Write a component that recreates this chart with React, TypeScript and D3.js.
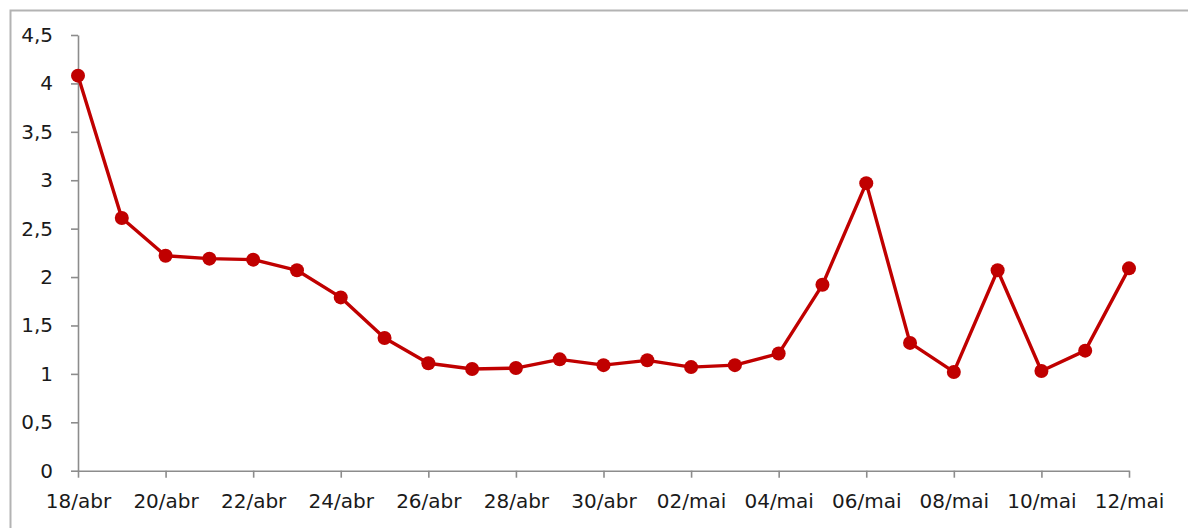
import { useEffect, useRef } from 'react';
import * as d3 from 'd3';

const days = [
	'18/abr', '19/abr', '20/abr', '21/abr', '22/abr', '23/abr', '24/abr', '25/abr',
	'26/abr', '27/abr', '28/abr', '29/abr', '30/abr', '01/mai', '02/mai', '03/mai',
	'04/mai', '05/mai', '06/mai', '07/mai', '08/mai', '09/mai', '10/mai', '11/mai', '12/mai',
];
const values = [
	4.08, 2.61, 2.22, 2.19, 2.18, 2.07, 1.79, 1.37, 1.11, 1.05, 1.06, 1.15, 1.09,
	1.14, 1.07, 1.09, 1.21, 1.92, 2.97, 1.32, 1.02, 2.07, 1.03, 1.24, 2.09,
];
const yTicks = [0, 0.5, 1, 1.5, 2, 2.5, 3, 3.5, 4, 4.5];

const width = 1188;
const height = 528;

export default function App() {
	const ref = useRef<SVGSVGElement>(null);

	useEffect(() => {
		const svg = d3.select(ref.current);
		svg.selectAll('*').remove();

		// outer frame, cut off on the right and bottom like the screenshot
		svg.append('rect')
			.attr('x', 10.5)
			.attr('y', 10.5)
			.attr('width', width + 20)
			.attr('height', height + 20)
			.attr('fill', 'white')
			.attr('stroke', '#b3b3b3')
			.attr('stroke-width', 2);

		const xScale = d3.scaleLinear()
			.domain([0, days.length - 1])
			.range([78, 1129]);
		const yScale = d3.scaleLinear()
			.domain([0, 4.5])
			.range([470.7, 35]);

		const font = '"DejaVu Sans", Verdana, sans-serif';

		const xAxis = svg.append('g')
			.attr('transform', `translate(0,${yScale(0)})`)
			.call(
				d3.axisBottom(xScale)
					.tickValues(d3.range(0, days.length, 2))
					.tickFormat(i => days[+i])
					.tickSize(7)
					.tickSizeOuter(0)
					.tickPadding(16),
			);
		const yAxis = svg.append('g')
			.attr('transform', `translate(${xScale(0)},0)`)
			.call(
				d3.axisLeft(yScale)
					.tickValues(yTicks)
					.tickFormat(v => String(v).replace('.', ','))
					.tickSize(7)
					.tickSizeOuter(0)
					.tickPadding(18),
			);
		[xAxis, yAxis].forEach(g => {
			g.selectAll('path, line')
				.attr('stroke', '#8c8c8c')
				.attr('stroke-width', 1.6);
			g.selectAll('text')
				.attr('fill', '#1a1a1a')
				.style('font-family', font)
				.style('font-size', '20px');
		});

		const line = d3.line<number>()
			.x((d, i) => xScale(i))
			.y(d => yScale(d));
		svg.append('path')
			.datum(values)
			.attr('fill', 'none')
			.attr('stroke', '#c00000')
			.attr('stroke-width', 3.4)
			.attr('stroke-linejoin', 'round')
			.attr('d', line);
		svg.append('g')
			.selectAll('circle')
			.data(values)
			.join('circle')
			.attr('cx', (d, i) => xScale(i))
			.attr('cy', d => yScale(d))
			.attr('r', 7)
			.attr('fill', '#c00000');
	}, []);

	return (
		<svg
			ref={ref}
			width={width}
			height={height}
			style={{ position: 'absolute', left: 0, top: 0, display: 'block' }}
		/>
	);
}
